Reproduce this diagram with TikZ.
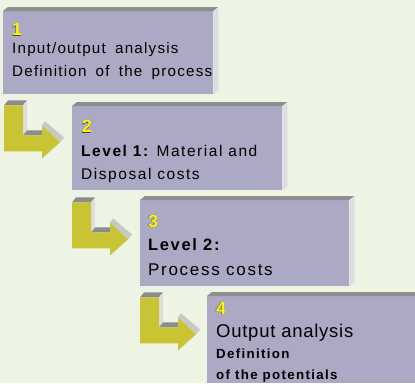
\documentclass[tikz,border=0pt]{standalone}
\usepackage{fontspec}
\setmainfont{Liberation Sans}[LetterSpace=10]
\newfontfamily\tightfont{Liberation Sans}[LetterSpace=4]
\newfontfamily\midfont{Liberation Sans}[LetterSpace=8,WordSpace=1.7]
\definecolor{bgc}{RGB}{237,244,228}
\definecolor{boxc}{RGB}{171,169,196}
\definecolor{boxtopc}{RGB}{142,142,142}
\definecolor{boxsidec}{RGB}{222,222,226}
\definecolor{arrc}{RGB}{200,196,52}
\definecolor{arrtopc}{RGB}{140,140,140}
\definecolor{arrsidec}{RGB}{222,222,222}
\definecolor{arrheadc}{RGB}{200,200,200}
\definecolor{numyel}{RGB}{255,245,0}
\definecolor{numdark}{RGB}{70,70,40}
\newcommand{\shadnum}[1]{{\color{numdark}\rlap{\kern-0.7pt\raisebox{-0.8pt}{#1}}}\textcolor{numyel}{#1}}
\newcommand{\fsz}[1]{\fontsize{#1}{#1}\selectfont}
\begin{document}
\begin{tikzpicture}[x=1pt,y=-1pt,
  box/.style={rectangle, fill=boxc, anchor=north west, inner sep=0pt, minimum width=210pt},
  txt/.style={anchor=base west, inner sep=0pt, text=black},
  numtxt/.style={anchor=base west, inner sep=0pt, font=\bfseries\fsz{17.5}},
  pics/larrow/.style={code={
    \fill[arrtopc] (0,0) -- (4,-5) -- (23,-5) -- (19,0) -- cycle;
    \fill[arrsidec] (19,0) -- (23,-5) -- (23,25) -- (19,30) -- cycle;
    \fill[arrtopc] (19,30) -- (23,25) -- (42,25) -- (38,30) -- cycle;
    \fill[arrheadc] (38,20) -- (41,16) -- (60,32) -- (56,37) -- cycle;
    \fill[arrc] (0,0) -- (19,0) -- (19,30) -- (38,30) -- (38,20) -- (56,37) -- (38,53) -- (38,46) -- (0,46) -- cycle;
  }}]
\fill[bgc] (0,0) rectangle (415,383);
\useasboundingbox (0,0) rectangle (415,383);

% boxes
\node[box, minimum height=83pt] (box1) at (3,11) {};
\node[box, minimum height=84pt] (box2) at (72,106) {};
\node[box, minimum height=86pt, minimum width=209pt] (box3) at (140,200) {};
\node[box, minimum height=87pt, minimum width=208pt] (box4) at (207,296) {};

% bevels
\foreach \b in {box1,box2,box3}{
  \fill[boxtopc] (\b.north west) -- ([shift={(5,-4)}]\b.north west) -- ([shift={(5,-4)}]\b.north east) -- (\b.north east) -- cycle;
  \fill[boxsidec] (\b.north east) -- ([shift={(5,-4)}]\b.north east) -- ([shift={(5,-4)}]\b.south east) -- (\b.south east) -- cycle;
}
\fill[boxtopc] (box4.north west) -- ([shift={(5,-4)}]box4.north west) -- ([shift={(5,-4)}]box4.north east) -- (box4.north east) -- cycle;

% arrows
\coordinate (a1) at ([shift={(1,11)}]box1.south west);
\coordinate (a2) at ([shift={(0,12)}]box2.south west);
\coordinate (a3) at ([shift={(0,11)}]box3.south west);
\pic at (a1) {larrow};
\pic at (a2) {larrow};
\pic at (a3) {larrow};

% texts box 1
\node[numtxt] (n1) at ([shift={(9,24.5)}]box1.north west) {\shadnum{1}};
\node[txt, font=\midfont\fsz{15.2}] (t1a) at ([shift={(9,42)}]box1.north west) {Input/output analysis};
\node[txt, font=\midfont\fsz{15.2}] (t1b) at ([shift={(9,65)}]box1.north west) {Definition of the process};

% texts box 2
\node[numtxt] (n2) at ([shift={(10,26.5)}]box2.north west) {\shadnum{2}};
\node[txt, font=\fsz{15.5}] (t2a) at ([shift={(9,50)}]box2.north west) {\textbf{Level 1:}\hspace{-1pt} Material and};
\node[txt, font=\fsz{15.5}] (t2b) at ([shift={(9,73.5)}]box2.north west) {Disposal costs};

% texts box 3
\node[numtxt] (n3) at ([shift={(8,27)}]box3.north west) {\shadnum{3}};
\node[txt, font=\bfseries\fsz{16.5}] (t3a) at ([shift={(8,50)}]box3.north west) {Level 2:};
\node[txt, font=\fsz{17}] (t3b) at ([shift={(8,75)}]box3.north west) {Process costs};

% texts box 4
\node[numtxt] (n4) at ([shift={(9,18)}]box4.north west) {\shadnum{4}};
\node[txt, font=\tightfont\fsz{18.5}] (t4a) at ([shift={(9,41)}]box4.north west) {Output analysis};
\node[txt, font=\bfseries\fsz{13.3}] (t4b) at ([shift={(9,62)}]box4.north west) {Definition};
\node[txt, font=\bfseries\fsz{13.3}] (t4c) at ([shift={(9,83)}]box4.north west) {of the potentials};
\end{tikzpicture}
\end{document}
